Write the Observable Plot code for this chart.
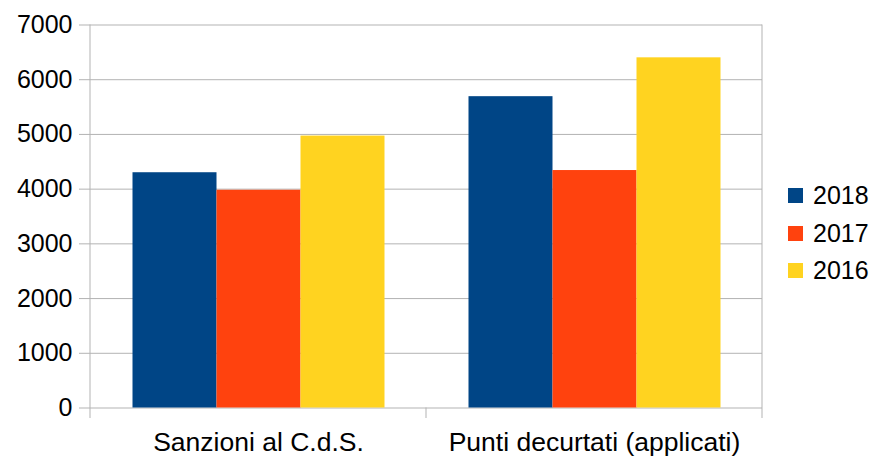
<!DOCTYPE html>
<html>
<head>
<meta charset="utf-8">
<script src="https://cdn.jsdelivr.net/npm/d3@7"></script>
<script src="https://cdn.jsdelivr.net/npm/@observablehq/plot@0.6"></script>
<style>
  html, body { margin: 0; padding: 0; background: #fff; }
  #wrap { position: relative; width: 872px; height: 456px; font-family: "Liberation Sans", Arial, sans-serif; }
  #legend { position: absolute; left: 788px; top: 177px; font-size: 25px; color: #000; }
  #legend .row { display: flex; align-items: center; height: 37.5px; }
  #legend .sw { width: 15px; height: 15px; margin-right: 10px; }
</style>
</head>
<body>
<div id="wrap"><div id="legend"></div></div>
<script>
const categories = ["Sanzioni al C.d.S.", "Punti decurtati (applicati)"];
const years = ["2018", "2017", "2016"];
const values2018 = [4300, 5690];
const values2017 = [3980, 4340];
const values2016 = [4970, 6400];
const yTicks = [0, 1000, 2000, 3000, 4000, 5000, 6000, 7000];
const colors = ["#004586", "#ff420e", "#ffd320"];

const series = {"2018": values2018, "2017": values2017, "2016": values2016};
const data = [];
categories.forEach((c, i) => years.forEach(y => data.push({category: c, year: y, value: series[y][i]})));

const grid = "#b3b3b3";
const plot = Plot.plot({
  width: 872,
  height: 456,
  marginLeft: 89.5,
  marginRight: 110,
  marginTop: 24.5,
  marginBottom: 48.5,
  style: {fontFamily: "Liberation Sans, Arial, sans-serif", fontSize: "25px", color: "#000", background: "transparent", overflow: "visible"},
  fx: {domain: categories, padding: 0, label: null},
  x: {domain: years, paddingInner: 0, paddingOuter: 0.5, axis: null},
  y: {domain: [0, 7000], label: null},
  color: {domain: years, range: colors},
  marks: [
    Plot.gridY(yTicks, {stroke: grid, strokeOpacity: 1, strokeWidth: 1}),
    Plot.barY(data, {fx: "category", x: "year", y: "value", fill: "year"}),
    Plot.axisY(yTicks, {tickSize: 11, tickPadding: 7, stroke: grid, strokeOpacity: 1, fill: "#000", label: null, fontSize: 25, tickFormat: d3.format("d")}),
    Plot.axisFx({anchor: "bottom", tickSize: 0, tickPadding: 24, label: null, fill: "#000", fontSize: 26.5})
  ]
});

document.getElementById("wrap").prepend(plot);

// category separators, built from the fx and y scales
const fx = plot.scale("fx"), ys = plot.scale("y");
const svg = d3.select(plot);
const edges = categories.map(c => fx.apply(c));
edges.push(fx.apply(categories[categories.length - 1]) + fx.bandwidth);
const y0 = ys.apply(0), yTop = ys.apply(7000);
const g = svg.append("g").attr("stroke", grid).attr("stroke-width", 1);
edges.forEach((x, i) => {
  const full = i === 0 || i === edges.length - 1;
  g.append("line").attr("x1", x).attr("x2", x).attr("y1", full ? yTop : y0).attr("y2", y0 + 10.5);
});

// legend
const legend = d3.select("#legend");
years.forEach((y, i) => {
  const row = legend.append("div").attr("class", "row");
  row.append("div").attr("class", "sw").style("background", colors[i]);
  row.append("span").text(y);
});
</script>
</body>
</html>
